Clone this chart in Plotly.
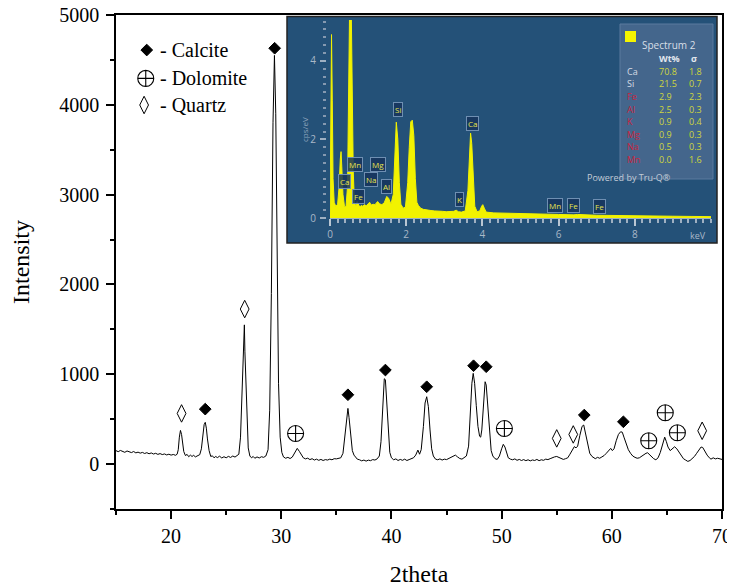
import plotly.graph_objects as go

# ---------------- XRD pattern ----------------
two_theta = [
    15.0, 15.2, 15.4, 15.6, 15.8, 16.0, 16.2, 16.4, 16.6, 16.8, 17.0, 17.2, 17.4, 17.6, 17.8,
    18.0, 18.2, 18.4, 18.6, 18.8, 19.0, 19.2, 19.4, 19.6, 19.8, 20.0, 20.2, 20.4, 20.55, 20.65,
    20.75, 20.85, 20.95, 21.05, 21.15, 21.3, 21.45, 21.6, 21.75, 21.9, 22.05, 22.2, 22.4, 22.6,
    22.75, 22.9, 23.0, 23.1, 23.2, 23.3, 23.45, 23.6, 23.75, 23.9, 24.05, 24.2, 24.4, 24.6, 24.8,
    25.0, 25.2, 25.4, 25.6, 25.8, 26.0, 26.15, 26.3, 26.45, 26.55, 26.65, 26.7, 26.8, 26.9, 27.0,
    27.15, 27.3, 27.45, 27.6, 27.8, 28.0, 28.2, 28.4, 28.6, 28.8, 28.95, 29.1, 29.25, 29.38, 29.5,
    29.62, 29.75, 29.9, 30.05, 30.2, 30.4, 30.6, 30.8, 31.0, 31.2, 31.45, 31.65, 31.85, 32.0, 32.2,
    32.4, 32.6, 32.8, 33.0, 33.2, 33.4, 33.6, 33.8, 34.0, 34.2, 34.4, 34.6, 34.8, 35.0, 35.2, 35.4,
    35.6, 35.8, 35.95, 36.05, 36.15, 36.3, 36.45, 36.6, 36.75, 36.9, 37.1, 37.3, 37.5, 37.7, 37.9,
    38.1, 38.3, 38.5, 38.7, 38.9, 39.05, 39.2, 39.35, 39.45, 39.55, 39.7, 39.85, 40.0, 40.2, 40.4,
    40.6, 40.8, 41.0, 41.2, 41.4, 41.6, 41.8, 42.0, 42.2, 42.4, 42.55, 42.7, 42.9, 43.05, 43.2,
    43.35, 43.5, 43.65, 43.8, 44.0, 44.2, 44.4, 44.6, 44.8, 45.0, 45.2, 45.4, 45.6, 45.8, 46.0,
    46.2, 46.4, 46.6, 46.8, 47.0, 47.15, 47.3, 47.42, 47.55, 47.7, 47.85, 48.0, 48.1, 48.2, 48.35,
    48.5, 48.6, 48.75, 48.9, 49.05, 49.2, 49.4, 49.6, 49.8, 50.0, 50.15, 50.3, 50.45, 50.6, 50.8,
    51.0, 51.2, 51.4, 51.6, 51.8, 52.0, 52.2, 52.4, 52.6, 52.8, 53.0, 53.2, 53.4, 53.6, 53.8, 54.0,
    54.2, 54.4, 54.6, 54.8, 55.0, 55.2, 55.4, 55.6, 55.8, 56.0, 56.2, 56.4, 56.6, 56.75, 56.9, 57.1,
    57.3, 57.45, 57.6, 57.8, 58.0, 58.2, 58.5, 58.7, 58.9, 59.1, 59.3, 59.5, 59.7, 59.9, 60.05, 60.2,
    60.4, 60.6, 60.8, 60.95, 61.1, 61.3, 61.5, 61.7, 61.9, 62.1, 62.3, 62.5, 62.7, 62.9, 63.1, 63.25,
    63.4, 63.6, 63.8, 64.0, 64.2, 64.4, 64.6, 64.8, 64.95, 65.1, 65.3, 65.5, 65.7, 65.9, 66.1, 66.3,
    66.5, 66.7, 66.9, 67.1, 67.3, 67.5, 67.7, 67.9, 68.1, 68.25, 68.45, 68.65, 68.85, 69.0, 69.2,
    69.4, 69.6, 69.8, 70.0,
]
intensity = [
    150, 138, 152, 140, 131, 146, 134, 128, 140, 125, 133, 122, 130, 118, 127,
    115, 124, 112, 120, 108, 117, 106, 113, 102, 110, 100, 107, 98, 110, 160,
    300, 375, 330, 220, 140, 95, 108, 82, 100, 85, 98, 80, 94, 105,
    170, 330, 440, 465, 400, 280, 150, 85, 92, 70, 85, 72, 88, 68, 82,
    70, 86, 74, 90, 78, 92, 110, 300, 800, 1250, 1550, 1250, 900, 450, 180,
    90, 70, 85, 65, 80, 68, 82, 75, 90, 160, 600, 1900, 3800, 4550, 3900,
    2200, 900, 300, 130, 80, 65, 75, 62, 78, 120, 175, 140, 95, 70, 58,
    66, 50, 60, 45, 55, 42, 52, 40, 50, 45, 55, 48, 60, 58, 66, 70,
    120, 350, 580, 620, 520, 300, 150, 100, 70, 55, 48, 36, 45, 33, 44,
    38, 50, 45, 58, 90, 250, 650, 950, 940, 700, 350, 130, 70, 48, 58,
    40, 52, 42, 55, 40, 50, 60, 70, 100, 156, 110, 160, 420, 680, 750,
    640, 380, 170, 90, 55, 48, 58, 45, 55, 50, 62, 70, 85, 100, 80,
    62, 55, 70, 90, 200, 550, 900, 1010, 900, 650, 420, 310, 300, 380, 700,
    917, 880, 600, 320, 150, 90, 60, 52, 90, 170, 220, 190, 120, 70, 55,
    48, 58, 42, 52, 40, 50, 38, 48, 36, 46, 40, 52, 38, 48, 42, 55,
    50, 60, 72, 80, 85, 75, 60, 52, 60, 70, 110, 160, 195, 180, 200, 320,
    420, 435, 350, 200, 120, 85, 60, 75, 65, 80, 95, 120, 150, 175, 150, 170,
    260, 330, 360, 355, 300, 230, 160, 120, 90, 75, 65, 70, 90, 110, 120, 126,
    105, 80, 60, 48, 70, 130, 220, 300, 250, 190, 150, 175, 193, 170, 130, 90,
    60, 45, 30, 40, 60, 85, 120, 160, 190, 185, 140, 100, 70, 55, 70,
    58, 65, 55, 52,
]

# Phase markers (2theta, marker height)
calcite_x = [23.1, 29.4, 36.05, 39.45, 43.2, 47.45, 48.6, 57.5, 61.05]
calcite_y = [612, 4630, 772, 1047, 861, 1095, 1084, 546, 471]
dolomite_x = [31.3, 50.25, 63.35, 64.85, 65.95]
dolomite_y = [341, 397, 260, 572, 349]
quartz_x = [20.95, 26.68, 55.0, 56.5, 68.2]
quartz_y = [564, 1726, 286, 330, 371]

# Legend entries
legend_labels = ["- Calcite", "- Dolomite", "- Quartz"]
legend_sym_x = [17.79, 17.70, 17.55]
legend_sym_y = [4610, 4294, 3998]

# ---------------- EDS spectrum inset ----------------
kev = [
    0.00, 0.02, 0.04, 0.06, 0.08, 0.11, 0.15, 0.20, 0.24, 0.27, 0.29, 0.31, 0.34, 0.38, 0.42,
    0.46, 0.49, 0.52, 0.55, 0.58, 0.61, 0.64, 0.68, 0.71, 0.74, 0.78, 0.82, 0.86, 0.90, 0.95,
    1.00, 1.04, 1.08, 1.13, 1.18, 1.25, 1.30, 1.36, 1.42, 1.49, 1.54, 1.60, 1.66, 1.70, 1.74,
    1.78, 1.82, 1.86, 1.92, 1.98, 2.04, 2.08, 2.12, 2.16, 2.20, 2.24, 2.28, 2.32, 2.38, 2.45,
    2.55, 2.65, 2.75, 2.85, 2.95, 3.05, 3.15, 3.25, 3.31, 3.37, 3.45, 3.55, 3.62, 3.66, 3.69,
    3.72, 3.76, 3.80, 3.86, 3.93, 3.98, 4.01, 4.05, 4.10, 4.30, 4.60, 5.00, 5.50, 6.00, 6.40,
    6.50, 7.00, 7.50, 8.00, 8.50, 9.00, 9.50, 10.00,
]
cps = [
    0.0, 2.0, 4.67, 3.0, 1.0, 0.4, 0.3, 0.35, 0.8, 1.5, 1.69, 1.3, 0.6, 0.3, 0.28,
    0.8, 3.5, 5.8, 5.9, 3.5, 1.2, 0.4, 0.3, 0.42, 0.35, 0.28, 0.32, 0.3, 0.34, 0.31,
    0.36, 0.40, 0.33, 0.35, 0.34, 0.42, 0.36, 0.34, 0.38, 0.55, 0.50, 0.35, 0.6, 1.6, 2.44,
    2.0, 0.9, 0.35, 0.25, 0.28, 0.9, 1.8, 2.45, 2.49, 2.1, 1.0, 0.4, 0.32, 0.25, 0.22,
    0.2, 0.19, 0.18, 0.18, 0.17, 0.16, 0.16, 0.17, 0.2, 0.16, 0.15, 0.18, 0.7, 1.7, 2.16,
    1.9, 0.9, 0.3, 0.16, 0.18, 0.3, 0.34, 0.25, 0.15, 0.13, 0.12, 0.11, 0.1, 0.09, 0.08,
    0.09, 0.07, 0.06, 0.055, 0.05, 0.045, 0.04, 0.035,
]
peak_labels = ["Si", "Ca", "Mn", "Mg", "Ca", "Na", "Al", "Fe", "K", "Mn", "Fe", "Fe"]
peak_label_kev = [1.78, 3.73, 0.66, 1.27, 0.37, 1.07, 1.49, 0.75, 3.39, 5.91, 6.40, 7.08]
peak_label_cps = [2.77, 2.41, 1.37, 1.37, 0.94, 0.97, 0.81, 0.54, 0.46, 0.31, 0.31, 0.29]

eds_elements = ["Ca", "Si", "Fe", "Al", "K", "Mg", "Na", "Mn"]
eds_wt = ["70.8", "21.5", "2.9", "2.5", "0.9", "0.9", "0.5", "0.0"]
eds_sigma = ["1.8", "0.7", "2.3", "0.3", "0.4", "0.3", "0.3", "1.6"]
eds_element_red = [False, False, True, True, True, True, True, True]

# ---------------- layout helpers (screen pixel -> paper) ----------------
# The page body has an 8px default margin, so the figure is drawn 8px in.
OFF = 8
W, H = 735 - OFF, 588 - OFF
L, R, T, B = 116, 722, 15, 509   # plot area in screen pixels


def px(x):
    return (x - L) / (R - L)


def py(y):
    return (B - y) / (B - T)


SERIF = "Liberation Serif"
SANS = "Open Sans"

fig = go.Figure()

fig.add_trace(go.Scatter(x=two_theta, y=intensity, mode="lines",
                         line=dict(color="black", width=1), showlegend=False,
                         hoverinfo="skip"))
fig.add_trace(go.Scatter(x=calcite_x, y=calcite_y, mode="markers", showlegend=False,
                         marker=dict(symbol="diamond", size=9, color="black",
                                     line=dict(color="black", width=1))))
fig.add_trace(go.Scatter(x=dolomite_x, y=dolomite_y, mode="markers", showlegend=False,
                         marker=dict(symbol="circle-cross-open", size=16, color="black",
                                     line=dict(color="black", width=1.1))))
fig.add_trace(go.Scatter(x=quartz_x, y=quartz_y, mode="markers", showlegend=False,
                         marker=dict(symbol="diamond-tall-open", size=12.5, color="black",
                                     line=dict(color="black", width=1))))
# legend symbols
fig.add_trace(go.Scatter(x=legend_sym_x[:1], y=legend_sym_y[:1], mode="markers", showlegend=False,
                         marker=dict(symbol="diamond", size=9, color="black",
                                     line=dict(color="black", width=1))))
fig.add_trace(go.Scatter(x=legend_sym_x[1:2], y=legend_sym_y[1:2], mode="markers", showlegend=False,
                         marker=dict(symbol="circle-cross-open", size=16, color="black",
                                     line=dict(color="black", width=1.1))))
fig.add_trace(go.Scatter(x=legend_sym_x[2:], y=legend_sym_y[2:], mode="markers", showlegend=False,
                         marker=dict(symbol="diamond-tall-open", size=12.5, color="black",
                                     line=dict(color="black", width=1))))

# EDS spectrum
fig.add_trace(go.Scatter(x=kev, y=cps, xaxis="x2", yaxis="y2", mode="lines",
                         line=dict(color="#f2f200", width=1), fill="tozeroy",
                         fillcolor="#f2f200", showlegend=False, hoverinfo="skip"))

annotations = []
for i, lab in enumerate(legend_labels):
    annotations.append(dict(x=px(158), y=py([50, 78, 105][i]), xref="paper", yref="paper",
                            text=lab, showarrow=False, xanchor="left", yanchor="middle",
                            font=dict(family=SERIF, size=20, color="black")))

# inset peak labels
for t, xv, yv in zip(peak_labels, peak_label_kev, peak_label_cps):
    annotations.append(dict(x=xv, y=yv, xref="x2", yref="y2", text=t, showarrow=False,
                            font=dict(family=SANS, size=8, color="#e6e64e"),
                            bgcolor="rgba(22,52,92,0.85)", bordercolor="#6f8fb2",
                            borderwidth=1, borderpad=1))

# inset axis texts
annotations.append(dict(x=px(297), y=py(115), xref="paper", yref="paper", text="cps/eV",
                        showarrow=False, textangle=-90,
                        font=dict(family=SANS, size=8, color="#8ea4bd")))
annotations.append(dict(x=px(708), y=py(236), xref="paper", yref="paper", text="keV",
                        showarrow=False, font=dict(family=SANS, size=9, color="#a9b8c8")))

# EDS results table
annotations.append(dict(x=px(640), y=py(36), xref="paper", yref="paper", text="Spectrum 2",
                        showarrow=False, xanchor="left",
                        font=dict(family=SANS, size=10, color="#d8dfe7")))
annotations.append(dict(x=px(657), y=py(50), xref="paper", yref="paper", text="<b>Wt%</b>",
                        showarrow=False, xanchor="left",
                        font=dict(family=SANS, size=9, color="#e2e7ee")))
annotations.append(dict(x=px(689), y=py(50), xref="paper", yref="paper", text="<b>σ</b>",
                        showarrow=False, xanchor="left",
                        font=dict(family=SANS, size=9, color="#e2e7ee")))
for i, (el, wt, sg, red) in enumerate(zip(eds_elements, eds_wt, eds_sigma, eds_element_red)):
    yy = py(62.7 + 12.6 * i)
    annotations.append(dict(x=px(625), y=yy, xref="paper", yref="paper", text=el,
                            showarrow=False, xanchor="left",
                            font=dict(family=SANS, size=9,
                                      color="#c8253e" if red else "#d6dce4")))
    annotations.append(dict(x=px(657), y=yy, xref="paper", yref="paper", text=wt,
                            showarrow=False, xanchor="left",
                            font=dict(family=SANS, size=9, color="#cfd63e")))
    annotations.append(dict(x=px(687), y=yy, xref="paper", yref="paper", text=sg,
                            showarrow=False, xanchor="left",
                            font=dict(family=SANS, size=9, color="#cfd63e")))
annotations.append(dict(x=px(673), y=py(169), xref="paper", yref="paper",
                        text="Powered by Tru-Q®", showarrow=False,
                        font=dict(family=SANS, size=9, color="#c3ccd7")))

shapes = [
    # inset background
    dict(type="rect", xref="paper", yref="paper", x0=px(287), x1=px(717), y0=py(243), y1=py(16.5),
         fillcolor="#245178", line=dict(color="#222222", width=1.5), layer="below"),
    # results box
    dict(type="rect", xref="paper", yref="paper", x0=px(620), x1=px(713), y0=py(179), y1=py(24),
         fillcolor="#44668c", line=dict(color="#5a7a9e", width=1), layer="below"),
    # yellow swatch
    dict(type="rect", xref="paper", yref="paper", x0=px(625), x1=px(636), y0=py(42), y1=py(31),
         fillcolor="#f5f500", line=dict(width=0), layer="above"),
]

axis_font = dict(family=SERIF, size=20, color="black")
fig.update_layout(
    width=W, height=H,
    margin=dict(l=L - OFF, r=W - (R - OFF), t=T - OFF, b=H - (B - OFF), autoexpand=False),
    paper_bgcolor="white", plot_bgcolor="rgba(0,0,0,0)",
    showlegend=False,
    xaxis=dict(range=[15, 70], tickvals=[20, 30, 40, 50, 60, 70], ticks="outside",
               ticklen=8, tickwidth=1.5, tickcolor="black", showline=True, linewidth=1.5,
               linecolor="black", mirror=True, showgrid=False, zeroline=False,
               tickfont=axis_font, ticklabelstandoff=0, ticklabeloverflow="allow",
               minor=dict(tickvals=[15, 25, 35, 45, 55, 65], ticks="outside", ticklen=4,
                          tickwidth=1.5, tickcolor="black"),
               title=dict(text="2theta", font=dict(family=SERIF, size=24, color="black"),
                          standoff=19)),
    yaxis=dict(range=[-500, 5000], tickvals=[0, 1000, 2000, 3000, 4000, 5000], ticks="outside",
               ticklen=8, tickwidth=1.5, tickcolor="black", showline=True, linewidth=1.5,
               linecolor="black", mirror=True, showgrid=False, zeroline=False,
               tickfont=axis_font, ticklabelstandoff=3, ticklabeloverflow="allow",
               minor=dict(tickvals=[-500, 500, 1500, 2500, 3500, 4500], ticks="outside",
                          ticklen=4, tickwidth=1.5, tickcolor="black"),
               title=dict(text="Intensity", font=dict(family=SERIF, size=24, color="black"),
                          standoff=24)),
    xaxis2=dict(domain=[px(330), px(711)], anchor="y2", range=[0, 10],
                tickvals=[0, 2, 4, 6, 8], ticks="outside", ticklen=7, tickwidth=2,
                tickcolor="#b9c6d3", showline=True, linecolor="#9fb0c2", linewidth=1,
                showgrid=False, zeroline=False,
                tickfont=dict(family=SANS, size=10, color="#a9b8c8"),
                minor=dict(dtick=0.2, ticks="outside", ticklen=4, tickwidth=1.5,
                           tickcolor="#9fb0c2")),
    yaxis2=dict(domain=[py(218), py(20)], anchor="free", position=px(326), range=[0, 5.04],
                tickvals=[0, 2, 4], ticks="outside", ticklen=6, tickwidth=1.5,
                tickcolor="#9fb0c2", showline=False, showgrid=False, zeroline=False,
                tickfont=dict(family=SANS, size=10, color="#a9b8c8"), ticklabelstandoff=2,
                minor=dict(dtick=0.2, ticks="outside", ticklen=3, tickwidth=1.5,
                           tickcolor="#8599b0")),
    annotations=annotations,
    shapes=shapes,
)

fig.write_html("out.html")
